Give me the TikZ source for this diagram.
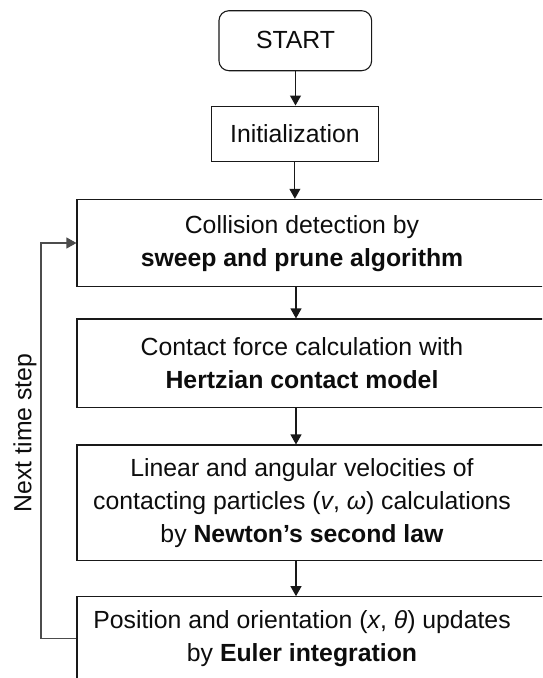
\documentclass[tikz,border=0pt]{standalone}
\usepackage{fontspec}
\setmainfont{Liberation Sans}
\usetikzlibrary{arrows.meta}
\begin{document}
\begin{tikzpicture}[x=1pt,y=-1pt,
  box/.style={draw=black!90,line width=1.1pt,rectangle,inner sep=0pt},
  txt/.style={align=center,inner sep=0pt,font=\fontsize{24.8}{33}\selectfont,text=black!95},
  arr/.style={draw=black!90,line width=1.1pt,-{Triangle[length=10pt,width=11pt]}},
  fback/.style={draw=black!70,line width=1.1pt,-{Triangle[length=10pt,width=11pt]}}]
\useasboundingbox (0,0) rectangle (542,678);
\clip (0,0) rectangle (542,678);
\node[box,rounded corners=10pt,minimum width=152.7pt,minimum height=60pt] (start) at (295.3,40.7) {};
\node[txt] (tstart) at (295.5,40) {START};
\node[box,minimum width=167.7pt,minimum height=55.3pt] (init) at (294.9,133.7) {};
\node[txt] (tinit) at (294.9,134) {Initialization};
\node[box,minimum width=483pt,minimum height=87.4pt] (b1) at (318.5,243) {};
\node[txt] (t1) at (302,244) {Collision detection by\\\textbf{sweep and prune algorithm}};
\node[box,minimum width=483pt,minimum height=88.7pt] (b2) at (318.5,363.35) {};
\node[txt] (t2) at (302,363.5) {Contact force calculation with\\\textbf{Hertzian contact model}};
\node[box,minimum width=483pt,minimum height=115.7pt] (b3) at (318.5,502.85) {};
\node[txt] (t3) at (302,503.5) {Linear and angular velocities of\\contacting particles (\textit{v}, \textit{ω}) calculations\\by \textbf{Newton’s second law}};
\node[box,minimum width=483pt,minimum height=83.3pt] (b4) at (318.5,638.35) {};
\node[txt] (t4) at (302,638.5) {Position and orientation (\textit{x}, \textit{θ}) updates\\by \textbf{Euler integration}};
\coordinate (ax) at (296,0);
\draw[arr] (start.south -| tstart) -- (init.north -| tstart);
\draw[arr] (init.south -| tinit) -- (b1.north -| tinit);
\draw[arr] (b1.south -| ax) -- (b2.north -| ax);
\draw[arr] (b2.south -| ax) -- (b3.north -| ax);
\draw[arr] (b3.south -| ax) -- (b4.north -| ax);
\coordinate (fb) at (41,243);
\draw[fback] (b4.west) -| (fb) -- (b1.west);
\node[txt,rotate=90] (next) at (25,433) {Next time step};
\end{tikzpicture}
\end{document}
